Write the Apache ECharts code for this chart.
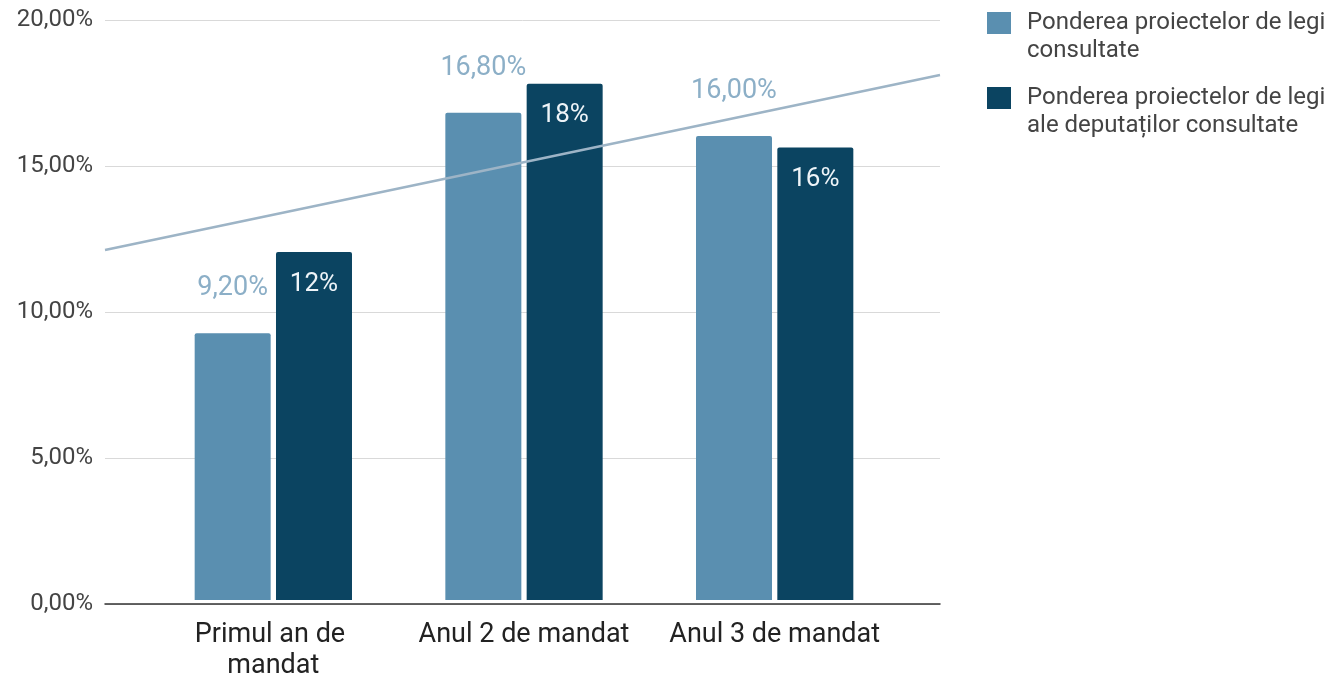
<!DOCTYPE html>
<html>
<head>
<meta charset="utf-8">
<script src="https://cdn.jsdelivr.net/npm/echarts@6/dist/echarts.min.js"></script>
<style>
  html, body { margin: 0; padding: 0; background: #ffffff; }
  #chart { width: 1335px; height: 682px; }
</style>
</head>
<body>
<div id="chart"></div>
<script>
// ---- data ----
var categories = ['Primul an de mandat', 'Anul 2 de mandat', 'Anul 3 de mandat'];
var seriesNames = ['Ponderea proiectelor de legi consultate', 'Ponderea proiectelor de legi ale deputaților consultate'];
var consultate = [9.2, 16.8, 16.0];
var deputatiConsultate = [12.0, 17.8, 15.6];
var yTicks = [0, 5, 10, 15, 20];

// linear trend of the second series (category index 1..n)
function trend(values) {
  var n = values.length, sx = 0, sy = 0, sxy = 0, sxx = 0;
  for (var i = 0; i < n; i++) {
    var x = i + 1, y = values[i];
    sx += x; sy += y; sxy += x * y; sxx += x * x;
  }
  var slope = (n * sxy - sx * sy) / (n * sxx - sx * sx);
  var icpt = (sy - slope * sx) / n;
  return function (x) { return icpt + slope * x; };
}
var tf = trend(deputatiConsultate);
var xMin = 0.328, xMax = 3.658;
var trendData = [[xMin, tf(xMin)], [xMax, tf(xMax)]];

function pct2(v) { return v.toFixed(2).replace('.', ',') + '%'; }

// legend marker: square at the top of a taller (otherwise empty) box,
// so it lines up with the first line of the wrapped legend text
var legendIcon = 'path://M0,0H24V22H0Z M0,49.99H0.01V50H0Z';

var chart = echarts.init(document.getElementById('chart'), null, { renderer: 'canvas' });
var FONT = 'Roboto';
chart.setOption({
  animation: false,
  backgroundColor: '#ffffff',
  textStyle: { fontFamily: FONT },
  grid: [
    { left: 105, right: 395, top: 20, bottom: 78, containLabel: false },
    { left: 148, right: 435, top: 20, bottom: 78, containLabel: false }
  ],
  xAxis: [
    { gridIndex: 0, type: 'value', min: xMin, max: xMax,
      axisLine: { show: true, lineStyle: { color: '#333333', width: 1.5 } },
      axisTick: { show: false }, axisLabel: { show: false }, splitLine: { show: false } },
    { gridIndex: 1, type: 'category', data: categories,
      axisLine: { show: false }, axisTick: { show: false },
      axisLabel: { interval: 0, fontSize: 27, color: '#222222', fontFamily: FONT,
                   width: 240, overflow: 'break', lineHeight: 31, margin: 20 } }
  ],
  yAxis: [
    { gridIndex: 0, type: 'value', min: yTicks[0], max: yTicks[yTicks.length - 1], interval: 5,
      axisLine: { show: false }, axisTick: { show: false },
      axisLabel: { fontSize: 24, color: '#444444', margin: 12, fontFamily: FONT, formatter: pct2 },
      splitLine: { lineStyle: { color: '#d9d9d9', width: 1 } } },
    { gridIndex: 1, type: 'value', min: yTicks[0], max: yTicks[yTicks.length - 1], interval: 5,
      show: false }
  ],
  legend: {
    data: [
      { name: seriesNames[0], icon: legendIcon },
      { name: seriesNames[1], icon: legendIcon }
    ],
    orient: 'vertical',
    left: 987, top: 9, padding: 0,
    itemWidth: 24, itemHeight: 50, itemGap: 19,
    textStyle: { fontSize: 24, color: '#444444', fontFamily: FONT,
                 width: 310, overflow: 'break', lineHeight: 28,
                 padding: [0, 0, 0, 11] }
  },
  series: [
    { name: seriesNames[0], type: 'bar', xAxisIndex: 1, yAxisIndex: 1,
      data: consultate, barWidth: 76, barGap: '7%',
      itemStyle: { color: '#5a8fb0', borderRadius: [2, 2, 0, 0] },
      label: { show: true, position: 'top', distance: 31, fontSize: 27, color: '#8cafc7',
               fontFamily: FONT, formatter: function (p) { return pct2(p.value); } } },
    { name: seriesNames[1], type: 'bar', xAxisIndex: 1, yAxisIndex: 1,
      data: deputatiConsultate, barWidth: 76,
      itemStyle: { color: '#0b4461', borderRadius: [2, 2, 0, 0] },
      label: { show: true, position: 'insideTop', distance: 19, fontSize: 26, color: '#eef4f8',
               fontFamily: FONT, formatter: function (p) { return Math.round(p.value) + '%'; } } },
    { name: 'trend', type: 'line', xAxisIndex: 0, yAxisIndex: 0,
      data: trendData, symbol: 'none', silent: true, z: 5,
      lineStyle: { color: '#9db4c6', width: 2.5 } }
  ]
});
</script>
</body>
</html>
